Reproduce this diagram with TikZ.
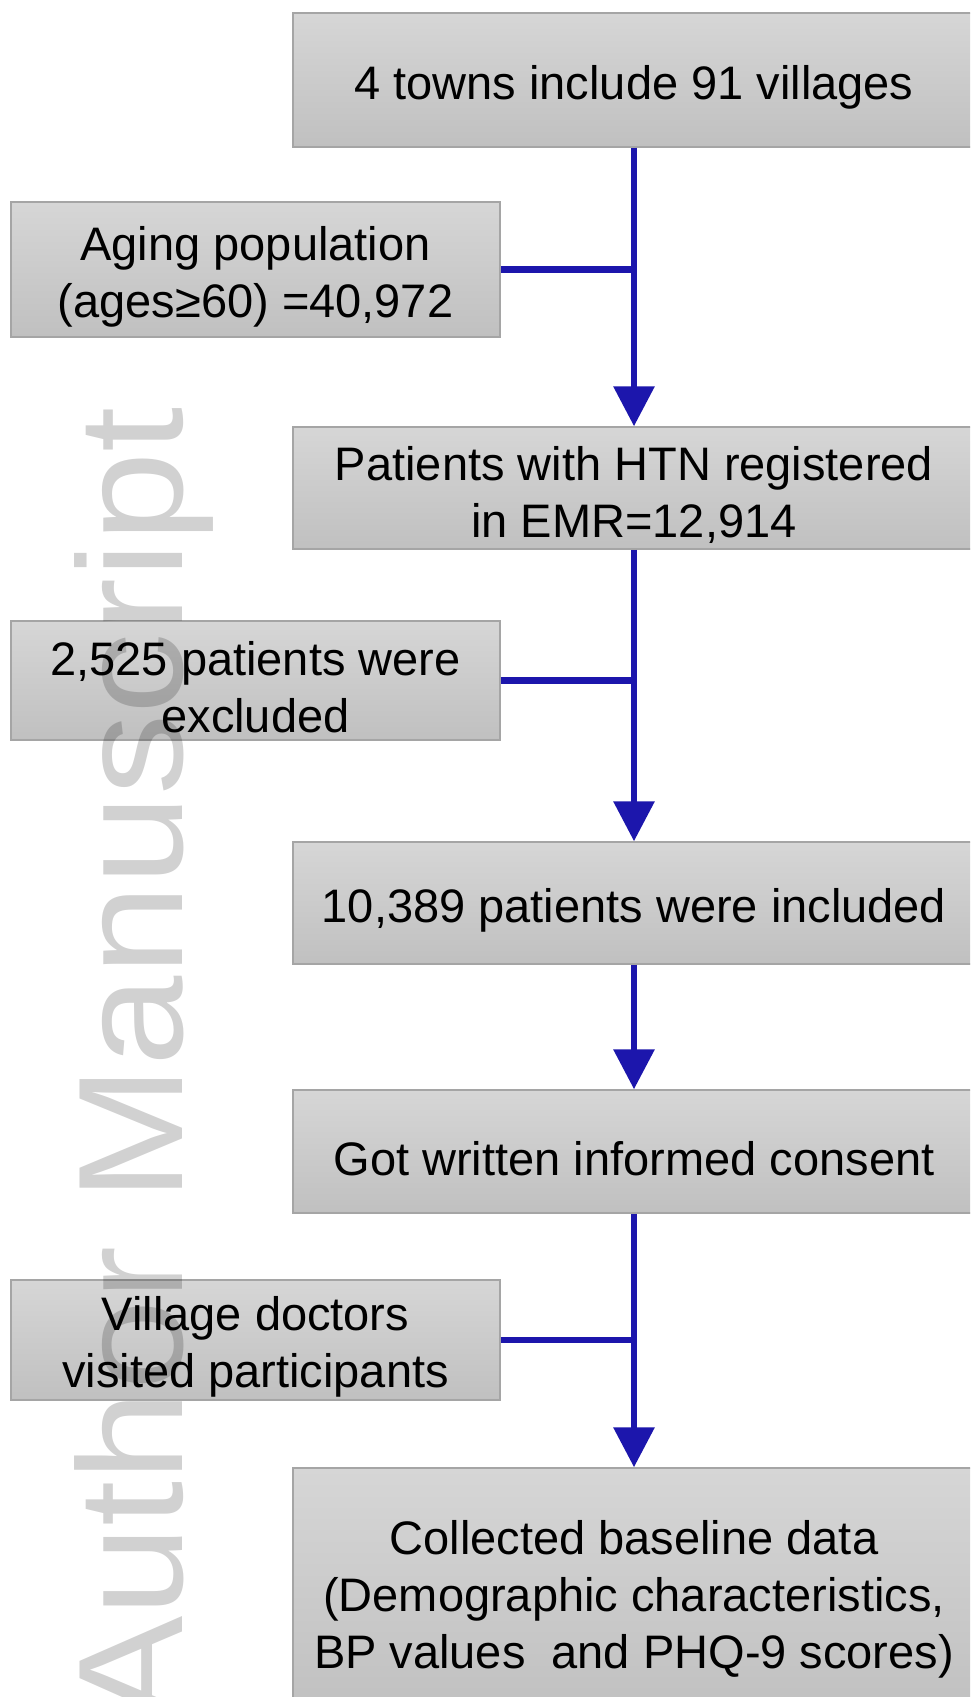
\documentclass[tikz,border=0pt]{standalone}
\usepackage{graphicx}
\usepackage{fontspec}
\setmainfont{Liberation Sans}
\usetikzlibrary{arrows.meta}
\definecolor{flowblue}{RGB}{28,22,172}
\definecolor{boxtop}{RGB}{214,214,214}
\definecolor{boxbot}{RGB}{192,192,192}
\definecolor{boxline}{RGB}{165,165,165}
\newcommand{\liftline}{\rule{0pt}{48pt}}
\tikzset{
  flowbox/.style={draw=boxline, line width=1.5pt, top color=boxtop, bottom color=boxbot,
    inner sep=0pt, align=center, font=\fontsize{47}{57}\selectfont, text=black},
  rightbox/.style={flowbox, minimum width=682pt},
  leftbox/.style={flowbox, minimum width=489pt},
  link/.style={draw=flowblue, line width=6.5pt},
  arrowlink/.style={link, -{Triangle[length=40pt,width=40pt]}},
  watermark/.style={rotate=90, anchor=base, inner sep=0pt,
    font=\fontsize{149}{149}\selectfont, text=black, text opacity=0.18}
}
\begin{document}
\begin{tikzpicture}[x=1pt, y=-1pt]
\fill[white] (0,0) rectangle (970,1697);
\useasboundingbox (0,0) rectangle (970,1697);
\clip (0,0) rectangle (970,1697);

\node[rightbox, minimum height=134pt] (towns) at (634,80) {\liftline 4 towns include 91 villages};
\node[leftbox, minimum height=135pt] (aging) at (255.5,269.5) {\liftline Aging population\\(ages≥60) =40,972};
\node[rightbox, minimum height=122pt] (htn) at (634,488) {\liftline Patients with HTN registered\\in EMR=12,914};
\node[leftbox, minimum height=119pt] (excl) at (255.5,680.5) {\liftline 2,525 patients were\\excluded};
\node[rightbox, minimum height=122pt] (incl) at (634,903) {\liftline 10,389 patients were included};
\node[rightbox, minimum height=123pt] (consent) at (634,1151.5) {\liftline Got written informed consent};
\node[leftbox, minimum height=120pt] (visit) at (255.5,1340) {\liftline Village doctors\\visited participants};
\node[rightbox, minimum height=248pt] (data) at (634,1592) {\liftline Collected baseline data\\(Demographic characteristics,\\BP values\ \ and PHQ-9 scores)};

\draw[arrowlink] (towns.south) -- (htn.north);
\draw[link] (aging.east) -- (aging.east -| towns.south);
\draw[arrowlink] (htn.south) -- (incl.north);
\draw[link] (excl.east) -- (excl.east -| htn.south);
\draw[arrowlink] (incl.south) -- (consent.north);
\draw[arrowlink] (consent.south) -- (data.north);
\draw[link] (visit.east) -- (visit.east -| consent.south);

\node[watermark] (wm) at (182,1066) {\scalebox{1.09}[1]{Author Manuscript}};
\end{tikzpicture}
\end{document}
